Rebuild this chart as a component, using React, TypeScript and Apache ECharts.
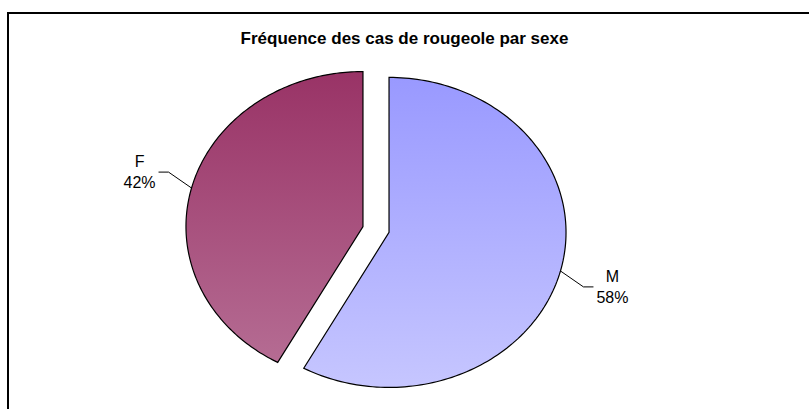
import React, { useEffect, useRef } from 'react';
import * as echarts from 'echarts';

const categories = ['M', 'F'];
const values = [58, 42];
const topColors = ['#9999FF', '#993366'];
const bottomColors = ['#C6C6FF', '#B56C93'];
const titleText = 'Fréquence des cas de rougeole par sexe';

const FONT = '"Liberation Sans", Arial, sans-serif';

export default function App() {
  const ref = useRef<HTMLDivElement>(null);
  useEffect(() => {
    document.body.style.margin = '0';
    const chart = echarts.init(ref.current!, null, { renderer: 'svg' });
    const total = values.reduce((a, b) => a + b, 0);
    const cx = 376;
    const cy = 229.5;
    const rx = 177;
    const ry = 155;
    const explode = 0.076;
    const data = categories.map((name, i) => ({ name, value: values[i] }));

    chart.setOption({
      animation: false,
      backgroundColor: '#ffffff',
      title: {
        text: titleText,
        left: 'center',
        top: 25,
        textStyle: { fontFamily: FONT, fontSize: 17, fontWeight: 'bold', color: '#000' },
      },
      graphic: [
        {
          type: 'rect',
          silent: true,
          shape: { x: 8, y: 13, width: 830, height: 430 },
          style: { fill: 'none', stroke: '#000', lineWidth: 2 },
        },
      ],
      series: [
        {
          type: 'custom',
          coordinateSystem: 'none',
          data,
          renderItem: (params: any, api: any) => {
            const idx = params.dataIndex;
            let before = 0;
            for (let k = 0; k < idx; k++) before += values[k];
            const v = api.value(0) as number;
            const a0 = (before / total) * Math.PI * 2;
            const a1 = ((before + v) / total) * Math.PI * 2;
            const mid = (a0 + a1) / 2;
            const ox = cx + explode * rx * Math.sin(mid);
            const oy = cy - explode * ry * Math.cos(mid);
            const pts: number[][] = [[ox, oy]];
            const steps = 160;
            for (let s = 0; s <= steps; s++) {
              const t = a0 + ((a1 - a0) * s) / steps;
              pts.push([ox + rx * Math.sin(t), oy - ry * Math.cos(t)]);
            }
            const sx = ox + rx * Math.sin(mid);
            const sy = oy - ry * Math.cos(mid);
            const sign = Math.sin(mid) >= 0 ? 1 : -1;
            const ex = sx + sign * 23;
            const ey = sy + -Math.cos(mid) * 64;
            const fx = ex + sign * 10;
            const fy = ey;
            const pct = Math.round((v / total) * 100);
            return {
              type: 'group',
              children: [
                {
                  type: 'polygon',
                  shape: { points: pts },
                  style: {
                    fill: new echarts.graphic.LinearGradient(0, 0, 0, 1, [
                      { offset: 0, color: topColors[idx] },
                      { offset: 1, color: bottomColors[idx] },
                    ]),
                    stroke: '#000',
                    lineWidth: 1.2,
                  },
                },
                {
                  type: 'polyline',
                  shape: { points: [[sx, sy], [ex, ey], [fx, fy]] },
                  style: { stroke: '#000', lineWidth: 1, fill: null },
                },
                {
                  type: 'text',
                  style: {
                    text: categories[idx] + '\n' + pct + '%',
                    x: fx + sign * 19,
                    y: fy,
                    align: 'center',
                    verticalAlign: 'middle',
                    fontFamily: FONT,
                    fontSize: 16,
                    lineHeight: 21,
                    fill: '#000',
                  },
                },
              ],
            };
          },
        },
      ],
    });
    return () => chart.dispose();
  }, []);
  return <div ref={ref} style={{ width: 809, height: 409 }} />;
}
